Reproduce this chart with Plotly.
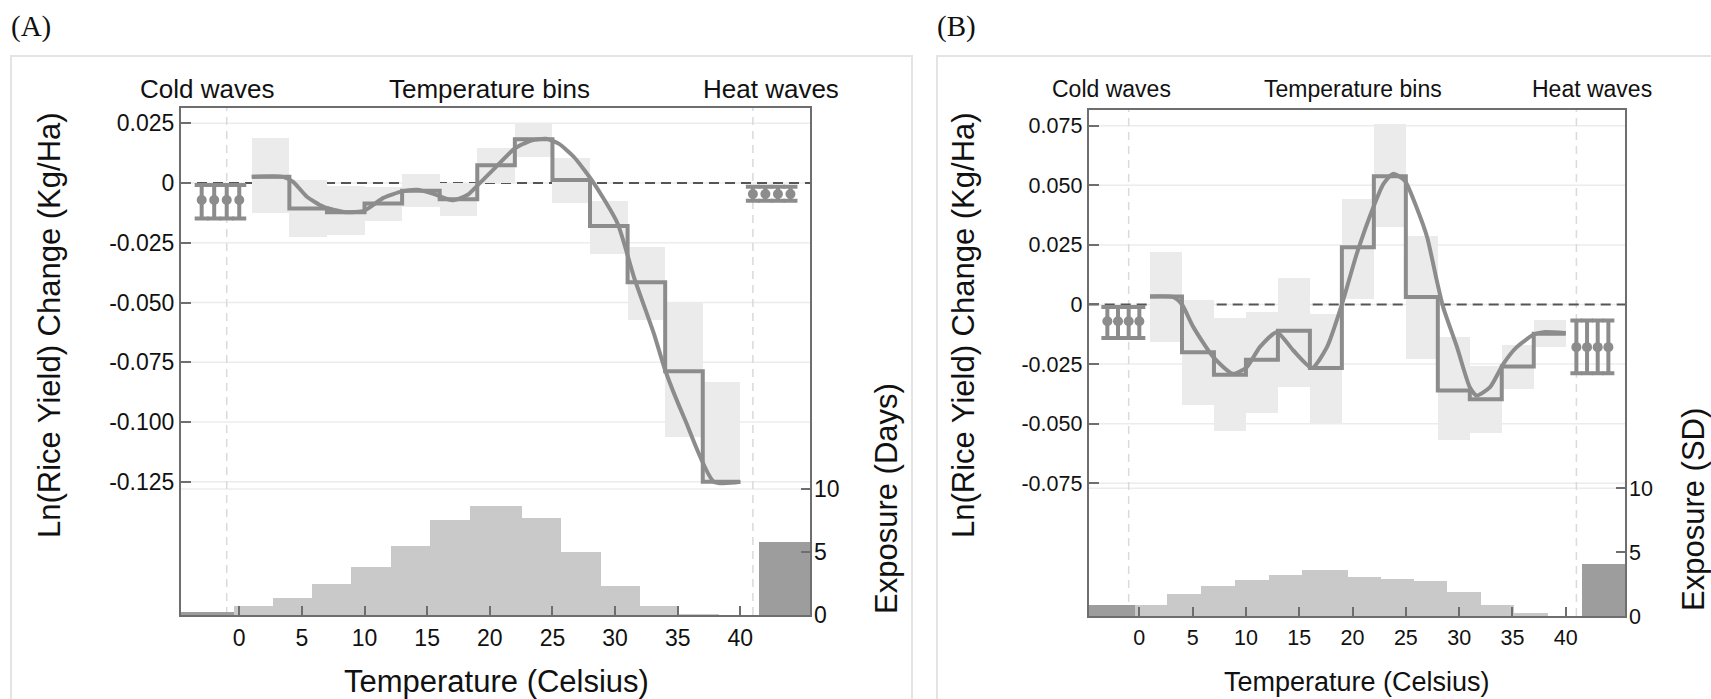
import plotly.graph_objects as go

W, H = 1711, 699

# ---------------- data ----------------
bin_edges = [1, 4, 7, 10, 13, 16, 19, 22, 25, 28, 31, 34, 37, 40]

# Panel A: yield response by 3-degree bin, with confidence bounds
a_coef = [0.0026, -0.0106, -0.0122, -0.0085, -0.0032, -0.0068, 0.0075,
          0.0183, 0.0013, -0.0180, -0.0415, -0.0787, -0.1250]
a_lo = [-0.0127, -0.0227, -0.0218, -0.0158, -0.0102, -0.0138, 0.0000,
        0.0110, -0.0084, -0.0296, -0.0573, -0.1064, -0.1250]
a_hi = [0.0187, 0.0013, -0.0012, -0.0016, 0.0038, 0.0000, 0.0145,
        0.0250, 0.0105, -0.0075, -0.0268, -0.0503, -0.0833]
a_curve_t = [1, 3.5, 4.3, 5.4, 6.7, 8.5, 10, 11.5, 13, 14.2, 15.5, 17, 18.2,
             19.2, 20.5, 22, 23.3, 24.5, 25.5, 26.7, 28.3, 30.2, 31.5, 33.1,
             34.0, 35.6, 37.9, 40]
a_curve_v = [0.0026, 0.0026, 0.0005, -0.0057, -0.0099, -0.0122, -0.0115,
             -0.0062, -0.0035, -0.0028, -0.0045, -0.0072, -0.0050, 0.0000,
             0.0068, 0.0145, 0.0178, 0.0185, 0.0165, 0.0110, 0.0000, -0.0169,
             -0.0392, -0.0630, -0.0783, -0.0992, -0.1250, -0.1250]
a_cold = (-0.0071, -0.0148, -0.0008)   # estimate, low, high
a_heat = (-0.0046, -0.0074, -0.0015)
a_hist_edges = [-0.45, 2.68, 5.8, 8.95, 12.1, 15.25, 18.4, 22.6, 25.7,
                28.85, 32.0, 35.1, 38.3]
a_hist = [0.68, 1.37, 2.46, 3.83, 5.48, 7.54, 8.65, 7.70, 4.97, 2.33, 0.68, 0.05]
a_cold_exposure = 0.2
a_heat_exposure = 5.82

# Panel B
b_coef = [0.0034, -0.0200, -0.0295, -0.0232, -0.0110, -0.0266, 0.0240,
          0.0538, 0.0031, -0.0361, -0.0398, -0.0260, -0.0123]
b_lo = [-0.0158, -0.0422, -0.0530, -0.0457, -0.0347, -0.0499, 0.0024,
        0.0324, -0.0228, -0.0570, -0.0540, -0.0354, -0.0179]
b_hi = [0.0220, 0.0020, -0.0056, -0.0030, 0.0112, -0.0039, 0.0443,
        0.0758, 0.0289, -0.0137, -0.0256, -0.0172, -0.0067]
b_curve_t = [1, 3.2, 4.0, 5.07, 6.94, 8.8, 10.1, 11.3, 12.9, 14.45, 16.2,
             17.6, 19.0, 20.4, 21.95, 22.9, 23.8, 24.9, 26.0, 27.0, 27.9,
             28.5, 29.8, 31.0, 31.65, 32.9, 34.15, 35.4, 37.0, 37.9, 40]
b_curve_v = [0.0034, 0.0031, 0.0000, -0.0095, -0.0221, -0.0291, -0.0262,
             -0.0179, -0.0116, -0.0193, -0.0266, -0.0179, 0.0000, 0.0213,
             0.0408, 0.0506, 0.0548, 0.0520, 0.0408, 0.0282, 0.0101,
             -0.0011, -0.0179, -0.0347, -0.0382, -0.0347, -0.0249, -0.0179,
             -0.0126, -0.0116, -0.0120]
b_cold = (-0.0070, -0.0141, -0.0011)
b_heat = (-0.0179, -0.0288, -0.0067)
b_hist_edges = [-0.45, 2.6, 5.8, 8.95, 12.1, 15.25, 19.5, 22.6, 25.7,
                28.85, 32.0, 35.1, 38.3]
b_hist = [0.86, 1.71, 2.36, 2.83, 3.17, 3.58, 3.08, 2.93, 2.77, 1.88, 0.89, 0.27]
b_cold_exposure = 0.86
b_heat_exposure = 4.05

cold_days = [-3, -2, -1, 0]
heat_days = [41, 42, 43, 44]
cold_cut, heat_cut = -1, 41
heat_bar_start = 41.5

x_ticks = [0, 5, 10, 15, 20, 25, 30, 35, 40]
a_yticks = [0.025, 0, -0.025, -0.05, -0.075, -0.1, -0.125]
a_yticktext = ["0.025", "0", "-0.025", "-0.050", "-0.075", "-0.100", "-0.125"]
b_yticks = [0.075, 0.05, 0.025, 0, -0.025, -0.05, -0.075]
b_yticktext = ["0.075", "0.050", "0.025", "0", "-0.025", "-0.050", "-0.075"]
exp_ticks = [0, 5, 10]
exp_grid = 10

# ---------------- styling ----------------
LINE = "#8c8c8c"
CI_FILL = "#ebebeb"
HIST = "#c9c9c9"
HIST_DARK = "#9d9d9d"
AXIS = "#6e6e6e"
GRID = "#ececec"
SANS = "Liberation Sans, Arial, sans-serif"
SERIF = "Liberation Serif, Times New Roman, serif"
TXT = "#111111"

fig = go.Figure()


def add_panel(xa, ya, ya2, xrange, coef, lo, hi, ct, cv, cold, heat,
              hedges, hvals, cold_exp, heat_exp, cap_px):
    centers = [(a + b) / 2 for a, b in zip(bin_edges[:-1], bin_edges[1:])]
    widths = [b - a for a, b in zip(bin_edges[:-1], bin_edges[1:])]
    # confidence boxes
    fig.add_trace(go.Bar(
        x=centers, base=lo, y=[h - l for h, l in zip(hi, lo)], width=widths,
        marker=dict(color=CI_FILL, line=dict(width=0)),
        xaxis=xa, yaxis=ya, showlegend=False, hoverinfo="skip"))
    # step estimates
    fig.add_trace(go.Scatter(
        x=bin_edges, y=coef + [coef[-1]], mode="lines",
        line=dict(color=LINE, width=4, shape="hv"),
        xaxis=xa, yaxis=ya, showlegend=False))
    # smooth response
    fig.add_trace(go.Scatter(
        x=ct, y=cv, mode="lines",
        line=dict(color=LINE, width=4, shape="spline", smoothing=0.6),
        xaxis=xa, yaxis=ya, showlegend=False))
    # cold / heat wave estimates
    for days, (est, l, h) in ((cold_days, cold), (heat_days, heat)):
        fig.add_trace(go.Scatter(
            x=days, y=[est] * len(days), mode="markers",
            marker=dict(color=LINE, size=10, symbol="circle"),
            error_y=dict(type="data", symmetric=False,
                         array=[h - est] * len(days),
                         arrayminus=[est - l] * len(days),
                         color=LINE, thickness=4, width=cap_px),
            xaxis=xa, yaxis=ya, showlegend=False))
    # exposure histogram
    hc = [(a + b) / 2 for a, b in zip(hedges[:-1], hedges[1:])]
    hw = [b - a for a, b in zip(hedges[:-1], hedges[1:])]
    fig.add_trace(go.Bar(
        x=hc, y=hvals, width=hw, marker=dict(color=HIST, line=dict(width=0)),
        xaxis=xa, yaxis=ya2, showlegend=False))
    left_w = hedges[0] - xrange[0]
    right_w = xrange[1] - heat_bar_start
    fig.add_trace(go.Bar(
        x=[xrange[0] + left_w / 2, heat_bar_start + right_w / 2],
        y=[cold_exp, heat_exp], width=[left_w, right_w],
        marker=dict(color=HIST_DARK, line=dict(width=0)),
        xaxis=xa, yaxis=ya2, showlegend=False))


a_xrange = [-4.65, 45.56]
b_xrange = [-4.75, 45.56]

add_panel("x", "y", "y2", a_xrange, a_coef, a_lo, a_hi, a_curve_t, a_curve_v,
          a_cold, a_heat, a_hist_edges, a_hist, a_cold_exposure,
          a_heat_exposure, 7)
add_panel("x2", "y3", "y4", b_xrange, b_coef, b_lo, b_hi, b_curve_t, b_curve_v,
          b_cold, b_heat, b_hist_edges, b_hist, b_cold_exposure,
          b_heat_exposure, 6)


def xaxis(dom, rng, fs, anchor):
    return dict(domain=dom, range=rng, tickvals=x_ticks, ticks="inside",
                ticklen=9, tickwidth=1.5, tickcolor=AXIS, showline=True,
                linecolor=AXIS, linewidth=2, mirror=True, showgrid=False,
                zeroline=False, anchor=anchor, automargin=False,
                tickfont=dict(family=SANS, size=fs, color=TXT),
                ticklabelstandoff=1)


def yaxis(dom, rng, vals, text, fs, anchor):
    return dict(domain=dom, range=rng, tickvals=vals, ticktext=text,
                ticks="inside", ticklen=10, tickwidth=1.5, tickcolor=AXIS,
                showline=True, linecolor=AXIS, linewidth=2, mirror=True,
                showgrid=False, zeroline=False, anchor=anchor,
                automargin=False,
                tickfont=dict(family=SANS, size=fs, color=TXT))


def yaxis_right(dom, rng, over, anchor, fs):
    return dict(domain=dom, range=rng, overlaying=over, side="right",
                anchor=anchor, tickvals=exp_ticks, ticks="inside", ticklen=9,
                tickwidth=1.5, tickcolor=AXIS, showline=False, showgrid=False,
                zeroline=False, automargin=False, ticklabelstandoff=3,
                tickfont=dict(family=SANS, size=fs, color=TXT))


a_xdom = [181 / W, 810 / W]
a_ydom = [1 - 615 / H, 1 - 108 / H]
b_xdom = [1088.7 / W, 1625 / W]
b_ydom = [1 - 616 / H, 1 - 110 / H]

fig.update_layout(
    width=W, height=H,
    margin=dict(l=0, r=0, t=0, b=0, pad=0, autoexpand=False),
    paper_bgcolor="white", plot_bgcolor="white", barmode="overlay",
    bargap=0, showlegend=False,
    xaxis=xaxis(a_xdom, a_xrange, 23, "y"),
    yaxis=yaxis(a_ydom, [-0.1807, 0.0314], a_yticks, a_yticktext, 23, "x"),
    yaxis2=yaxis_right(a_ydom, [0, 40.2], "y", "x", 23),
    xaxis2=xaxis(b_xdom, b_xrange, 21.5, "y3"),
    yaxis3=yaxis(b_ydom, [-0.1307, 0.0816], b_yticks, b_yticktext, 21.5, "x2"),
    yaxis4=yaxis_right(b_ydom, [0, 39.6], "y3", "x2", 21.5),
)

shapes = []
# panel frames
shapes.append(dict(type="rect", xref="paper", yref="paper", x0=11 / W,
                   x1=912 / W, y0=-0.05, y1=1 - 56 / H,
                   line=dict(color="#e4e4e4", width=2), layer="below"))
shapes.append(dict(type="rect", xref="paper", yref="paper", x0=937 / W,
                   x1=1.05, y0=-0.05, y1=1 - 56 / H,
                   line=dict(color="#e4e4e4", width=2), layer="below"))
for xa, ya, ya2, ticks in (("x", "y", "y2", a_yticks),
                           ("x2", "y3", "y4", b_yticks)):
    # horizontal gridlines (drawn as shapes so the zero line can sit on top)
    for v in ticks:
        shapes.append(dict(type="line", xref=f"{xa} domain", yref=ya,
                           x0=0, x1=1, y0=v, y1=v, layer="below",
                           line=dict(color=GRID, width=1.5)))
    shapes.append(dict(type="line", xref=f"{xa} domain", yref=ya2, x0=0, x1=1,
                       y0=exp_grid, y1=exp_grid, layer="below",
                       line=dict(color=GRID, width=1.5)))
    for cut in (cold_cut, heat_cut):
        shapes.append(dict(type="line", xref=xa, yref=f"{ya} domain",
                           x0=cut, x1=cut, y0=0, y1=1, layer="below",
                           line=dict(color="#dadada", width=1.5,
                                     dash="8px,6px")))
    # zero reference line
    shapes.append(dict(type="line", xref=f"{xa} domain", yref=ya, x0=0, x1=1,
                       y0=0, y1=0, layer="below",
                       line=dict(color="#555555", width=2, dash="10px,6px")))
fig.update_layout(shapes=shapes)

ann = []


def text(x, y, s, size, xref="paper", family=SANS, angle=0, xanchor="center"):
    ann.append(dict(x=x, y=y, xref=xref, yref="paper", text=s, showarrow=False,
                    xanchor=xanchor, yanchor="middle", textangle=angle,
                    font=dict(family=family, size=size, color=TXT)))


text(9 / W, 1 - 26 / H, "(A)", 29, family=SERIF, xanchor="left")
text(935 / W, 1 - 26 / H, "(B)", 29, family=SERIF, xanchor="left")

for xa, fs in (("x", 26), ("x2", 23)):
    text(-2.6, 1 - 89 / H, "Cold waves", fs, xref=xa)
    text(20, 1 - 89 / H, "Temperature bins", fs, xref=xa)
    text(42.45, 1 - 89 / H, "Heat waves", fs, xref=xa)

text(497 / W, 1 - 681 / H, "Temperature (Celsius)", 31)
text(1357 / W, 1 - 682 / H, "Temperature (Celsius)", 27)
text(49 / W, 1 - 325 / H, "Ln(Rice Yield) Change (Kg/Ha)", 31, angle=-90)
text(963 / W, 1 - 325 / H, "Ln(Rice Yield) Change (Kg/Ha)", 31, angle=-90)
text(886 / W, 1 - 499 / H, "Exposure (Days)", 31, angle=-90)
text(1693 / W, 1 - 510 / H, "Exposure (SD)", 31, angle=-90)
fig.update_layout(annotations=ann)

fig.write_html("out.html")
